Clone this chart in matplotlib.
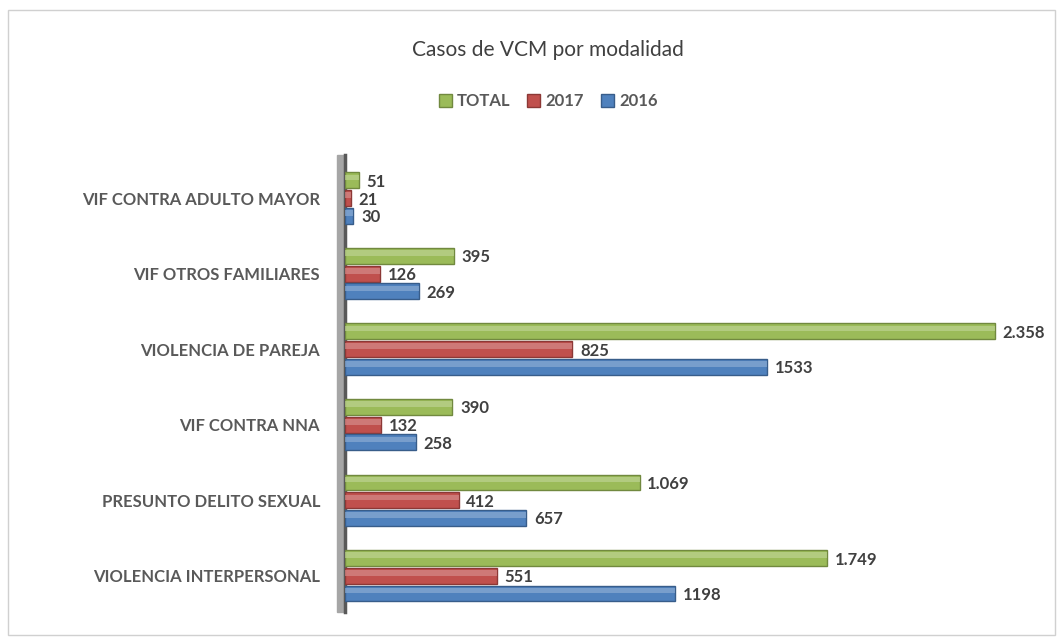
import numpy as np
import matplotlib as mpl
mpl.use('Agg')
import matplotlib.pyplot as plt
from matplotlib.patches import Rectangle

# categories listed bottom -> top
categorias = ["VIOLENCIA INTERPERSONAL", "PRESUNTO DELITO SEXUAL", "VIF CONTRA NNA",
              "VIOLENCIA DE PAREJA", "VIF OTROS FAMILIARES", "VIF CONTRA ADULTO MAYOR"]
total = [1749, 1069, 390, 2358, 395, 51]
v2017 = [551, 412, 132, 825, 126, 21]
v2016 = [1198, 657, 258, 1533, 269, 30]

series = [
    ("TOTAL", total, "#9BBB59", "#71893F", "#C3D69B", True),
    ("2017", v2017, "#C0504D", "#8C3836", "#D99694", False),
    ("2016", v2016, "#4F81BD", "#385D8A", "#95B3D7", False),
]

plt.rcParams['font.family'] = ['Lato', 'DejaVu Sans']
fig = plt.figure(figsize=(10.63, 6.41), dpi=100)
fig.patches.append(Rectangle((8/1063, 6/641), 1047/1063, 625/641, transform=fig.transFigure,
                             fill=False, edgecolor="#D0D0D0", linewidth=1))

ax = fig.add_axes([345/1063, 1 - 612/641, 700/1063, (612 - 155)/641])
y = np.arange(len(categorias))
h = 0.21
offs = [0.235, 0.0, -0.235]

for (name, vals, col, edge, light, fmt_dot), off in zip(series, offs):
    ax.barh(y + off, vals, height=h, color=col, edgecolor=edge, linewidth=1, label=name, zorder=3)
    # lighter band on top to mimic the 3d shading
    ax.barh(y + off + h * 0.18, vals, height=h * 0.35, color=light, linewidth=0, alpha=0.6, zorder=4)
    for yi, v in zip(y, vals):
        txt = f"{v:,}".replace(",", ".") if fmt_dot else str(v)
        ax.text(v + 28, yi + off - 0.02, txt, va="center", ha="left", fontsize=12,
                fontweight="bold", color="#404040", zorder=5)

ax.set_xlim(0, 2540)
ax.set_ylim(-0.48, 5.57)
ax.set_yticks(y)
ax.set_yticklabels(categorias, fontsize=12, fontweight="bold", color="#595959")
ax.tick_params(axis="y", length=0, pad=18)
ax.set_xticks([])
for s in ["top", "right", "bottom"]:
    ax.spines[s].set_visible(False)
ax.spines["left"].set_color("#595959")
ax.spines["left"].set_linewidth(2.5)
# side wall
ax.add_patch(Rectangle((-0.012, 0), 0.012, 1, transform=ax.transAxes, color="#A6A6A6",
                       clip_on=False, zorder=2))

fig.text(548/1063, 1 - 50/641, "Casos de VCM por modalidad", ha="center", va="center",
         fontsize=15, color="#404040")
leg = fig.legend(loc="center", bbox_to_anchor=(548/1063, 1 - 101/641), ncol=3, frameon=False,
                 fontsize=12, handlelength=0.8, handleheight=0.8, columnspacing=1.0, handletextpad=0.3)
for t in leg.get_texts():
    t.set_color("#595959")
    t.set_fontweight("bold")

fig.savefig("out.png", dpi=100)
